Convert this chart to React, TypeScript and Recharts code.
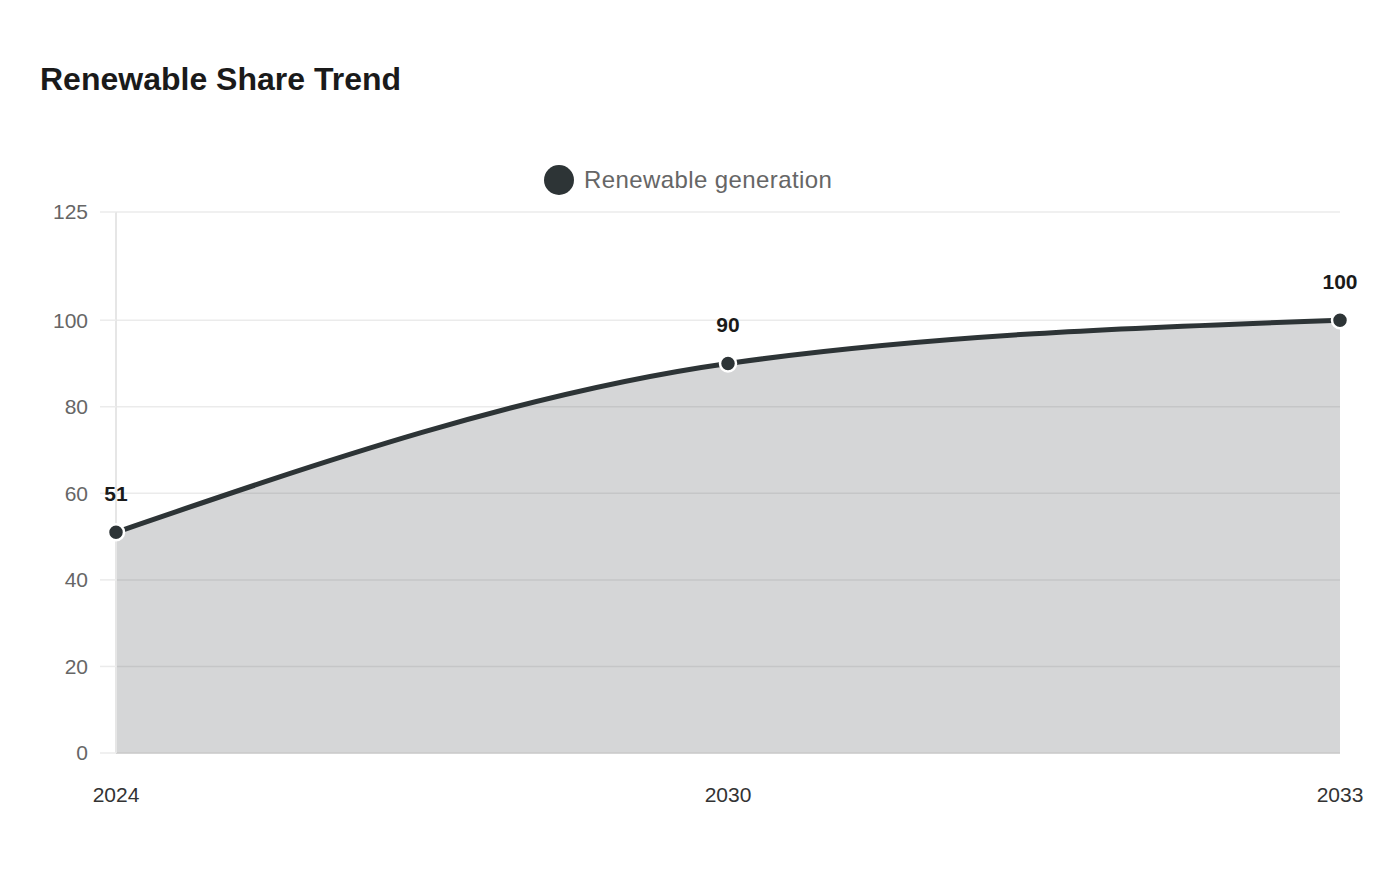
import React from "react";
import {
  AreaChart,
  Area,
  XAxis,
  YAxis,
  CartesianGrid,
  Legend,
  LabelList,
} from "recharts";

const years = ["2024", "2030", "2033"];
const renewable = [51, 90, 100];
const yTicks = [0, 20, 40, 60, 80, 100, 125];
const seriesName = "Renewable generation";
const title = "Renewable Share Trend";

const data = years.map((y, i) => ({ year: y, value: renewable[i] }));

const LINE = "#2d3436";
const FONT = '"Liberation Sans", Arial, Helvetica, sans-serif';

const LegendContent = () => (
  <div style={{ display: "flex", alignItems: "center", fontFamily: FONT, height: 30 }}>
    <svg width={30} height={30} style={{ display: "block" }}>
      <circle cx={15} cy={15} r={15} fill={LINE} />
    </svg>
    <span style={{ marginLeft: 10, fontSize: 24, lineHeight: "30px", color: "#666", whiteSpace: "nowrap", letterSpacing: 0.4 }}>
      {seriesName}
    </span>
  </div>
);

export default function App() {
  return (
    <div style={{ position: "absolute", left: 0, top: 0, width: 1400, height: 880, background: "#fff" }}>
      <div
        style={{
          position: "absolute",
          left: 40,
          top: 63,
          fontFamily: FONT,
          fontWeight: 700,
          fontSize: 32,
          lineHeight: "32px",
          color: "#1a1a1a",
          whiteSpace: "nowrap",
        }}
      >
        {title}
      </div>
      <AreaChart
        width={1400}
        height={880}
        data={data}
        margin={{ top: 212, right: 60, left: 0, bottom: 97 }}
        style={{ fontFamily: FONT }}
      >
        <CartesianGrid vertical={false} stroke="#ebebeb" strokeWidth={1.5} />
        <XAxis
          dataKey="year"
          height={30}
          axisLine={{ stroke: "#cccccc", strokeWidth: 1.5 }}
          tickLine={false}
          tickSize={8}
          tickMargin={26}
          tick={{ fill: "#333", fontSize: 21 }}
          interval={0}
        />
        <YAxis
          width={116}
          domain={[0, 125]}
          ticks={yTicks}
          interval={0}
          axisLine={{ stroke: "#e6e6e6", strokeWidth: 2 }}
          tickLine={{ stroke: "#ebebeb", strokeWidth: 1.5 }}
          tickSize={16}
          tickMargin={12}
          tick={{ fill: "#666", fontSize: 21 }}
        />
        <Legend
          layout="horizontal"
          verticalAlign="middle"
          align="center"
          wrapperStyle={{ top: 165, left: 544, width: "auto" }}
          content={() => <LegendContent />}
        />
        <Area
          type="monotone"
          dataKey="value"
          name={seriesName}
          stroke={LINE}
          strokeWidth={5}
          fill={LINE}
          fillOpacity={0.2}
          isAnimationActive={false}
          dot={{ r: 8, fill: LINE, stroke: "#fff", strokeWidth: 2.5, fillOpacity: 1 }}
          activeDot={false}
        >
          <LabelList
            dataKey="value"
            position="top"
            offset={31}
            style={{ fill: "#1a1a1a", fontSize: 21, fontWeight: 700 }}
          />
        </Area>
      </AreaChart>
    </div>
  );
}
